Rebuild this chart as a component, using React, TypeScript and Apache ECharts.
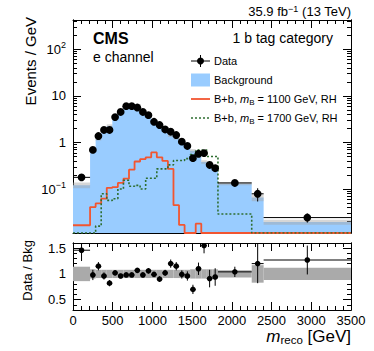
import React, { useEffect, useRef } from "react";
import * as echarts from "echarts";

// ---- Data ----
const binEdges = [0, 215, 285, 355, 425, 495, 565, 635, 705, 775, 845, 915, 985, 1055, 1125, 1195, 1265, 1335, 1405, 1475, 1545, 1615, 1685, 1755, 1825, 2250, 2400, 3500];
const dataValues = [0.178, 0.69, 1.37, 1.85, 1.85, 3.5, 4.5, 6.0, 6.0, 5.6, 4.5, 3.85, 2.77, 2.36, 1.9, 1.7, 1.44, 1.04, 0.84, 0.46, 0.57, 0.59, 0.33, 0.28, 0.135, 0.079, 0.0244];
const backgroundValues = [0.121, 0.70, 1.19, 1.93, 2.26, 3.4, 4.7, 6.1, 6.1, 5.2, 4.6, 3.6, 2.8, 2.6, 1.86, 1.42, 1.25, 1.05, 0.875, 0.66, 0.52, 0.38, 0.36, 0.30, 0.13, 0.066, 0.0195];
const backgroundRelUnc = [0.14, 0.09, 0.08, 0.08, 0.08, 0.08, 0.08, 0.08, 0.08, 0.08, 0.08, 0.08, 0.08, 0.08, 0.08, 0.08, 0.08, 0.08, 0.08, 0.09, 0.09, 0.09, 0.09, 0.09, 0.07, 0.17, 0.12];
const ratioValues = [1.46, 0.98, 1.15, 0.96, 0.82, 1.02, 0.96, 0.98, 0.98, 1.07, 0.98, 1.06, 0.99, 0.90, 1.02, 1.20, 1.15, 0.99, 0.96, 0.70, 1.10, 1.55, 0.91, 0.94, 1.04, 1.20, 1.27];
const ratioErrors = [0.21, 0.10, 0.08, 0.07, 0.06, 0.05, 0.045, 0.04, 0.04, 0.045, 0.045, 0.05, 0.05, 0.055, 0.06, 0.08, 0.08, 0.08, 0.09, 0.09, 0.12, 0.15, 0.17, 0.17, 0.10, 0.38, 0.28];
const signal1100 = [0.0167, 0.041, 0.049, 0.062, 0.106, 0.11, 0.135, 0.167, 0.26, 0.39, 0.44, 0.48, 0.61, 0.48, 0.40, 0.27, 0.045, 0.017, 0, 0, 0.018, 0, 0, 0, 0, 0, 0];
const signal1700 = [0, 0, 0.016, 0.079, 0.057, 0.062, 0.10, 0.154, 0.115, 0.12, 0.10, 0.17, 0.17, 0.27, 0.27, 0.33, 0.41, 0.41, 0.45, 0.55, 0.69, 0.69, 0.5, 0.5, 0.029, 0, 0];

const xTickValues = [0, 500, 1000, 1500, 2000, 2500, 3000, 3500];
const mainDecades = [-1, 0, 1, 2];
const ratioTickLabels = [0.5, 1, 1.5];

const Y_MIN = 0.01138;
const Y_MAX = 424;
const R_MIN = 0.3;
const R_MAX = 1.6;

const FONT = '"Liberation Sans", Arial, Helvetica, sans-serif';
const RED = "#f25530";
const GREEN = "#2e6e30";
const BLUE = "#99ccff";

const L = Math.log10;
const LMIN = L(Y_MIN);
const LMAX = L(Y_MAX);
const toLog = (v: number) => (v > 0 ? Math.max(L(v), LMIN) : LMIN);

function stepPoints(values: number[]) {
  const pts: number[][] = [];
  values.forEach((v, i) => {
    const lv = toLog(v);
    pts.push([binEdges[i], lv]);
    pts.push([binEdges[i + 1], lv]);
  });
  return pts;
}

const mainMinorTicks: number[] = [];
for (let d = -2; d <= 2; d++) {
  for (let k = 2; k <= 9; k++) {
    const lv = L(k * Math.pow(10, d));
    if (lv > LMIN && lv < LMAX) mainMinorTicks.push(lv);
  }
}
const ratioMinorTicks: number[] = [];
for (let i = 3; i <= 16; i++) {
  if (i % 5 !== 0) ratioMinorTicks.push(i / 10);
}

const centers = binEdges.slice(0, -1).map((e, i) => (e + binEdges[i + 1]) / 2);

const mainPoints = dataValues.map((v, i) => {
  const rel = ratioErrors[i] / ratioValues[i];
  return [centers[i], L(v), binEdges[i], binEdges[i + 1], L(v * (1 - rel)), L(v * (1 + rel))];
});
const ratioPoints = ratioValues.map((r, i) => [
  centers[i], r, binEdges[i], binEdges[i + 1], r - ratioErrors[i], r + ratioErrors[i],
]);
const mainBand = backgroundValues.map((b, i) => [
  binEdges[i], binEdges[i + 1], L(b * (1 - backgroundRelUnc[i])), L(b * (1 + backgroundRelUnc[i])),
]);
const ratioBand = backgroundRelUnc.map((u, i) => [binEdges[i], binEdges[i + 1], 1 - u, 1 + u]);

function pointRenderer(radius: number) {
  return (_p: any, api: any) => {
    const c = api.coord([api.value(0), api.value(1)]);
    const l = api.coord([api.value(2), api.value(1)]);
    const r = api.coord([api.value(3), api.value(1)]);
    const lo = api.coord([api.value(0), api.value(4)]);
    const hi = api.coord([api.value(0), api.value(5)]);
    return {
      type: "group",
      children: [
        { type: "line", shape: { x1: l[0], y1: c[1], x2: r[0], y2: c[1] }, style: { stroke: "#000", lineWidth: 1 } },
        { type: "line", shape: { x1: c[0], y1: hi[1], x2: c[0], y2: lo[1] }, style: { stroke: "#000", lineWidth: 1 } },
        { type: "circle", shape: { cx: c[0], cy: c[1], r: radius }, style: { fill: "#000" } },
      ],
    };
  };
}

function bandRenderer(color: string) {
  return (_p: any, api: any) => {
    const a = api.coord([api.value(0), api.value(3)]);
    const b = api.coord([api.value(1), api.value(2)]);
    return {
      type: "rect",
      shape: { x: a[0], y: a[1], width: b[0] - a[0], height: b[1] - a[1] },
      style: { fill: color },
    };
  };
}

const axisLine = { show: true, onZero: false, lineStyle: { color: "#000", width: 1 } };

function xAxisDef(gridIndex: number, position: string, showLabels: boolean) {
  return {
    type: "value",
    gridIndex,
    position,
    min: 0,
    max: 3500,
    interval: 500,
    axisLine,
    splitLine: { show: false },
    axisTick: { show: true, inside: true, length: 8, lineStyle: { color: "#000" } },
    minorTick: { show: true, splitNumber: 5, length: 4, lineStyle: { color: "#000" } },
    axisLabel: {
      show: showLabels,
      margin: 4,
      fontSize: 13,
      fontFamily: FONT,
      color: "#000",
      customValues: xTickValues,
      formatter: (v: number) => String(v),
    },
  };
}

function yAxisDef(gridIndex: number, position: string, min: number, max: number, ticks: number[], len: number, labels: number[] | null, formatter?: any) {
  return {
    type: "value",
    gridIndex,
    position,
    min,
    max,
    axisLine,
    splitLine: { show: false },
    axisTick: { show: true, inside: true, length: len, customValues: ticks, lineStyle: { color: "#000" } },
    axisLabel: labels
      ? {
          show: true,
          customValues: labels,
          margin: 7,
          fontSize: 13,
          fontFamily: FONT,
          color: "#000",
          formatter,
          rich: {
            b: { fontSize: 13, lineHeight: 18, fontFamily: FONT, color: "#000" },
            s: { fontSize: 9, lineHeight: 9, verticalAlign: "top", fontFamily: FONT, color: "#000" },
          },
        }
      : { show: false },
  };
}

const mainFormatter = (v: number) => {
  const e = Math.round(v);
  if (e === 0) return "1";
  if (e === 1) return "10";
  return `{b|10}{s|${e < 0 ? "\u2212" + -e : e}}`;
};
const ratioFormatter = (v: number) => String(v);

const legendRich = {
  n: { fontSize: 11, lineHeight: 14, fontFamily: FONT, color: "#000" },
  i: { fontSize: 11, lineHeight: 14, fontStyle: "italic", fontFamily: FONT, color: "#000" },
  sub: { fontSize: 8, lineHeight: 8, verticalAlign: "bottom", fontFamily: FONT, color: "#000" },
};

export default function App() {
  const ref = useRef<HTMLDivElement>(null);
  useEffect(() => {
    if (!ref.current) return;
    const chart = echarts.init(ref.current, null, { renderer: "svg" });
    const lx0 = 191, lx1 = 210, tx = 214;
    chart.setOption({
      animation: false,
      backgroundColor: "#fff",
      grid: [
        { left: 73, top: 20, width: 278, height: 213 },
        { left: 73, top: 243, width: 278, height: 67 },
      ],
      xAxis: [xAxisDef(0, "bottom", false), xAxisDef(0, "top", false), xAxisDef(1, "bottom", true), xAxisDef(1, "top", false)],
      yAxis: [
        yAxisDef(0, "left", LMIN, LMAX, mainDecades, 8, mainDecades, mainFormatter),
        yAxisDef(0, "left", LMIN, LMAX, mainMinorTicks, 4, null),
        yAxisDef(0, "right", LMIN, LMAX, mainDecades, 8, null),
        yAxisDef(0, "right", LMIN, LMAX, mainMinorTicks, 4, null),
        yAxisDef(1, "left", R_MIN, R_MAX, ratioTickLabels, 8, ratioTickLabels, ratioFormatter),
        yAxisDef(1, "left", R_MIN, R_MAX, ratioMinorTicks, 4, null),
        yAxisDef(1, "right", R_MIN, R_MAX, ratioTickLabels, 8, null),
        yAxisDef(1, "right", R_MIN, R_MAX, ratioMinorTicks, 4, null),
      ],
      series: [
        {
          name: "Background",
          type: "line",
          xAxisIndex: 0,
          yAxisIndex: 0,
          data: stepPoints(backgroundValues),
          symbol: "none",
          silent: true,
          lineStyle: { width: 0 },
          areaStyle: { color: BLUE, opacity: 1, origin: "start" },
          z: 1,
        },
        {
          name: "Bkg unc",
          type: "custom",
          xAxisIndex: 0,
          yAxisIndex: 0,
          data: mainBand,
          encode: { x: [0, 1], y: [2, 3] },
          renderItem: bandRenderer("rgba(165,165,165,0.45)"),
          clip: true,
          silent: true,
          z: 2,
        },
        {
          name: "B+b 1100",
          type: "line",
          xAxisIndex: 0,
          yAxisIndex: 0,
          data: stepPoints(signal1100),
          symbol: "none",
          silent: true,
          lineStyle: { color: RED, width: 1.8 },
          z: 3,
        },
        {
          name: "B+b 1700",
          type: "line",
          xAxisIndex: 0,
          yAxisIndex: 0,
          data: stepPoints(signal1700),
          symbol: "none",
          silent: true,
          lineStyle: { color: GREEN, width: 1.6, type: [2, 2] },
          z: 3,
        },
        {
          name: "Data",
          type: "custom",
          xAxisIndex: 0,
          yAxisIndex: 0,
          data: mainPoints,
          encode: { x: [0, 2, 3], y: [1, 4, 5] },
          renderItem: pointRenderer(3.9),
          clip: true,
          silent: true,
          z: 4,
        },
        {
          name: "Ratio unc",
          type: "custom",
          xAxisIndex: 2,
          yAxisIndex: 4,
          data: ratioBand,
          encode: { x: [0, 1], y: [2, 3] },
          renderItem: bandRenderer("#aaaaaa"),
          clip: true,
          silent: true,
          z: 2,
        },
        {
          name: "Ratio",
          type: "custom",
          xAxisIndex: 2,
          yAxisIndex: 4,
          data: ratioPoints,
          encode: { x: [0, 2, 3], y: [1, 4, 5] },
          renderItem: pointRenderer(2.8),
          clip: true,
          silent: true,
          z: 4,
        },
      ],
      graphic: [
        { type: "text", x: 351, y: 11, style: { text: "35.9 fb{s|\u22121} (13 TeV)", align: "right", verticalAlign: "middle", font: `13px ${FONT}`, fill: "#000", rich: { s: { fontSize: 9, lineHeight: 9, verticalAlign: "top", fontFamily: FONT } } } },
        { type: "text", x: 93, y: 38, style: { text: "CMS", align: "left", verticalAlign: "middle", font: `bold 16px ${FONT}`, fill: "#000" } },
        { type: "text", x: 93, y: 57, style: { text: "e channel", align: "left", verticalAlign: "middle", font: `14px ${FONT}`, fill: "#000" } },
        { type: "text", x: 333, y: 38, style: { text: "1 b tag category", align: "right", verticalAlign: "middle", font: `14px ${FONT}`, fill: "#000" } },
        // legend
        { type: "line", shape: { x1: lx0, y1: 61, x2: lx1, y2: 61 }, style: { stroke: "#000", lineWidth: 1 } },
        { type: "line", shape: { x1: 200.5, y1: 55, x2: 200.5, y2: 67 }, style: { stroke: "#000", lineWidth: 1 } },
        { type: "circle", shape: { cx: 200.5, cy: 61, r: 3.5 }, style: { fill: "#000" } },
        { type: "text", x: tx, y: 61, style: { text: "Data", align: "left", verticalAlign: "middle", font: `11px ${FONT}`, fill: "#000" } },
        { type: "rect", shape: { x: lx0, y: 73.5, width: lx1 - lx0, height: 13 }, style: { fill: BLUE } },
        { type: "text", x: tx, y: 80, style: { text: "Background", align: "left", verticalAlign: "middle", font: `11px ${FONT}`, fill: "#000" } },
        { type: "line", shape: { x1: lx0, y1: 99, x2: lx1, y2: 99 }, style: { stroke: RED, lineWidth: 1.8 } },
        { type: "text", x: tx, y: 99, style: { text: "{n|B+b, }{i|m}{sub|B}{n| = 1100 GeV, RH}", align: "left", verticalAlign: "middle", rich: legendRich } },
        { type: "line", shape: { x1: lx0, y1: 118, x2: lx1, y2: 118 }, style: { stroke: GREEN, lineWidth: 1.6, lineDash: [2, 2] } },
        { type: "text", x: tx, y: 118, style: { text: "{n|B+b, }{i|m}{sub|B}{n| = 1700 GeV, RH}", align: "left", verticalAlign: "middle", rich: legendRich } },
        // axis titles
        { type: "text", x: 30, y: 17, rotation: Math.PI / 2, style: { text: "Events / GeV", align: "right", verticalAlign: "middle", font: `15px ${FONT}`, fill: "#000" } },
        { type: "text", x: 27, y: 240, rotation: Math.PI / 2, style: { text: "Data / Bkg", align: "right", verticalAlign: "middle", font: `13px ${FONT}`, fill: "#000" } },
        {
          type: "text",
          x: 351,
          y: 336,
          style: {
            text: "{m|m}{r|reco}{g| [GeV]}",
            align: "right",
            verticalAlign: "middle",
            rich: {
              m: { fontSize: 17, lineHeight: 20, fontStyle: "italic", fontFamily: FONT, color: "#000" },
              r: { fontSize: 11.5, lineHeight: 12, verticalAlign: "bottom", fontFamily: FONT, color: "#000" },
              g: { fontSize: 17, lineHeight: 20, fontFamily: FONT, color: "#000" },
            },
          },
        },
      ],
    });
    return () => chart.dispose();
  }, []);
  return <div ref={ref} style={{ position: "fixed", left: 0, top: 0, width: 374, height: 351 }} />;
}
